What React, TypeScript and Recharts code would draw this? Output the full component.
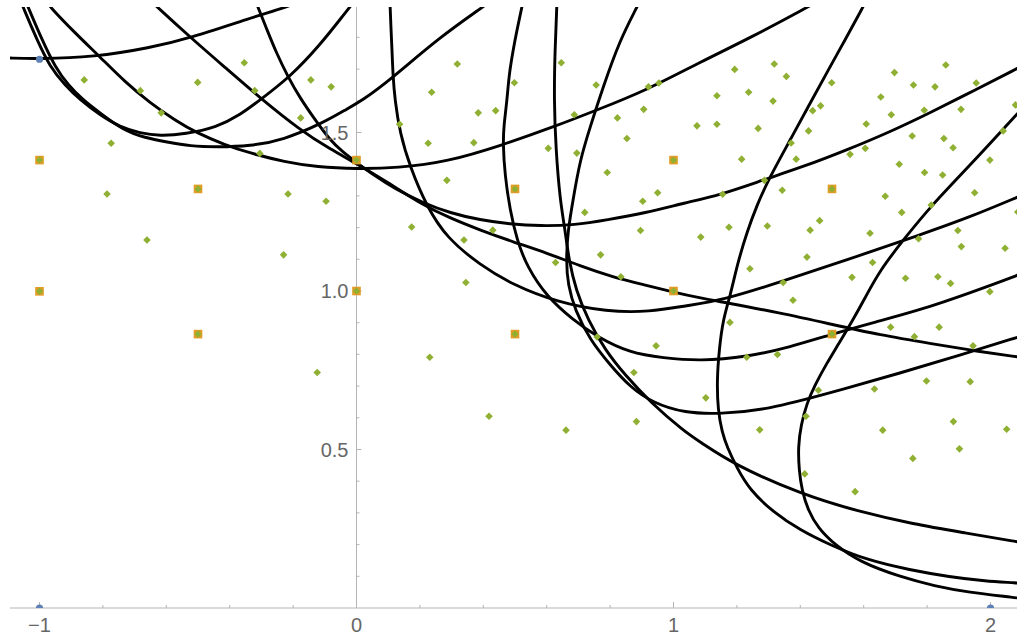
import React from 'react';
import { ComposedChart, Line, Scatter, XAxis, YAxis, ReferenceLine } from 'recharts';

type Pair = [number, number];

// plot window
const xDomain: [number, number] = [-1.0931, 2.0836];
const yDomain: [number, number] = [0, 1.8959];

// axis ticks
const xTickLabels = [-1, 0, 1, 2];
const xMinorTicks = [-0.8, -0.6, -0.4, -0.2, 0.2, 0.4, 0.6, 0.8, 1.2, 1.4, 1.6, 1.8, 2.0];
const yMajorTicks = [0.5, 1.0, 1.5];
const yMajorLabels = ['0.5', '1.0', '1.5'];
const yMinorTicks = [0.1, 0.2, 0.3, 0.4, 0.6, 0.7, 0.8, 0.9, 1.1, 1.2, 1.3, 1.4, 1.6, 1.7, 1.8];

// black curves
const curveTopFlat: Pair[] = [
  [-1.099, 1.735], [-1.005, 1.732], [-0.828, 1.738], [-0.651, 1.767], [-0.525, 1.798],
  [-0.336, 1.861], [-0.219, 1.896], [-0.191, 1.909],
];
const curveLeftU1: Pair[] = [
  [-1.058, 1.912], [-1.052, 1.896], [-1.008, 1.792], [-0.967, 1.707], [-0.92, 1.65], [-0.872, 1.603],
  [-0.809, 1.555], [-0.746, 1.517], [-0.683, 1.498], [-0.62, 1.489], [-0.541, 1.495], [-0.44, 1.517],
  [-0.368, 1.555], [-0.304, 1.603], [-0.21, 1.675], [-0.115, 1.776], [-0.036, 1.877], [-0.014, 1.905],
];
const curveLeftU2: Pair[] = [
  [-1.043, 1.912], [-1.036, 1.896], [-0.992, 1.792], [-0.951, 1.707], [-0.91, 1.65], [-0.863, 1.603],
  [-0.809, 1.562], [-0.737, 1.508], [-0.667, 1.483], [-0.598, 1.47], [-0.525, 1.457], [-0.44, 1.454],
  [-0.336, 1.457], [-0.232, 1.476], [-0.106, 1.53], [-0.036, 1.571], [0.021, 1.603], [0.106, 1.666],
  [0.263, 1.801], [0.399, 1.896], [0.415, 1.909],
];
const curveWideU: Pair[] = [
  [-0.976, 1.912], [-0.967, 1.896], [-0.888, 1.814], [-0.809, 1.738], [-0.73, 1.659], [-0.651, 1.593],
  [-0.573, 1.539], [-0.503, 1.498], [-0.415, 1.461], [-0.336, 1.435], [-0.226, 1.407], [-0.125, 1.391],
  [0.002, 1.385], [0.128, 1.388], [0.285, 1.407], [0.462, 1.461], [0.62, 1.517], [0.759, 1.571],
  [0.916, 1.634], [1.084, 1.722], [1.241, 1.798], [1.424, 1.896], [1.446, 1.909],
];
const curveMidU: Pair[] = [
  [-0.317, 1.912], [-0.311, 1.896], [-0.282, 1.823], [-0.254, 1.754], [-0.216, 1.675], [-0.178, 1.609],
  [-0.137, 1.549], [-0.084, 1.476], [-0.043, 1.438], [0.002, 1.404], [0.058, 1.363], [0.121, 1.322],
  [0.21, 1.278], [0.295, 1.246], [0.39, 1.224], [0.484, 1.211], [0.579, 1.205], [0.689, 1.208],
  [0.79, 1.224], [0.91, 1.246], [1.036, 1.278], [1.147, 1.303], [1.282, 1.35], [1.415, 1.394],
  [1.547, 1.445], [1.683, 1.502], [1.809, 1.562], [1.951, 1.634], [2.087, 1.703], [2.109, 1.716],
];
const curveDiagonal: Pair[] = [
  [-0.645, 1.912], [-0.629, 1.896], [-0.525, 1.801], [-0.412, 1.703], [-0.304, 1.609], [-0.178, 1.508],
  [-0.084, 1.448], [0.002, 1.401], [0.106, 1.338], [0.21, 1.271], [0.295, 1.23], [0.39, 1.192],
  [0.494, 1.155], [0.601, 1.12], [0.705, 1.079], [0.809, 1.044], [0.91, 1.019], [0.998, 0.997],
  [1.084, 0.978], [1.156, 0.965], [1.336, 0.931], [1.494, 0.896], [1.651, 0.861], [1.819, 0.833],
  [1.951, 0.811], [2.087, 0.792], [2.109, 0.789],
];
const curveArc1: Pair[] = [
  [0.106, 1.915], [0.106, 1.896], [0.109, 1.823], [0.112, 1.76], [0.115, 1.681], [0.121, 1.603],
  [0.137, 1.498], [0.169, 1.391], [0.222, 1.265], [0.285, 1.167], [0.39, 1.082], [0.494, 1.019],
  [0.632, 0.965], [0.79, 0.934], [0.926, 0.934], [1.036, 0.953], [1.156, 0.971], [1.336, 1.028],
  [1.547, 1.098], [1.778, 1.177], [1.935, 1.233], [2.087, 1.297], [2.109, 1.306],
];
const curveArc2: Pair[] = [
  [0.525, 1.915], [0.522, 1.896], [0.506, 1.823], [0.494, 1.76], [0.481, 1.681], [0.475, 1.603],
  [0.465, 1.524], [0.462, 1.467], [0.468, 1.366], [0.484, 1.256], [0.506, 1.161], [0.538, 1.076],
  [0.601, 0.981], [0.683, 0.909], [0.759, 0.855], [0.863, 0.804], [0.967, 0.789], [1.084, 0.779],
  [1.232, 0.792], [1.368, 0.823], [1.5, 0.864], [1.636, 0.902], [1.778, 0.94], [1.935, 0.994],
  [2.087, 1.05], [2.109, 1.06],
];
const curveDrop: Pair[] = [
  [0.632, 1.915], [0.632, 1.896], [0.626, 1.76], [0.623, 1.603], [0.629, 1.445], [0.642, 1.287],
  [0.658, 1.192], [0.67, 1.098], [0.692, 1.003], [0.73, 0.909], [0.784, 0.814], [0.847, 0.735],
  [0.926, 0.65], [1.036, 0.555], [1.084, 0.524], [1.188, 0.454], [1.399, 0.36], [1.588, 0.303],
  [1.756, 0.265], [1.92, 0.237], [2.087, 0.208], [2.109, 0.205],
];
const curveArc3: Pair[] = [
  [0.894, 1.915], [0.885, 1.896], [0.831, 1.792], [0.778, 1.644], [0.737, 1.517], [0.705, 1.413],
  [0.683, 1.287], [0.667, 1.192], [0.661, 1.098], [0.667, 1.019], [0.689, 0.94], [0.737, 0.845],
  [0.8, 0.767], [0.863, 0.697], [0.935, 0.647], [1.036, 0.615], [1.147, 0.612], [1.295, 0.625],
  [1.503, 0.681], [1.715, 0.741], [1.904, 0.798], [2.087, 0.855], [2.109, 0.861],
];
const curveSide1: Pair[] = [
  [1.607, 1.915], [1.598, 1.896], [1.541, 1.792], [1.494, 1.707], [1.431, 1.593], [1.368, 1.476],
  [1.304, 1.36], [1.263, 1.271], [1.232, 1.186], [1.203, 1.091], [1.178, 0.981], [1.156, 0.909],
  [1.144, 0.814], [1.137, 0.719], [1.14, 0.625], [1.153, 0.555], [1.169, 0.508], [1.2, 0.442],
  [1.241, 0.372], [1.314, 0.303], [1.399, 0.246], [1.494, 0.199], [1.61, 0.151], [1.746, 0.12],
  [1.872, 0.098], [1.983, 0.085], [2.087, 0.079], [2.109, 0.076],
];
const curveSide2: Pair[] = [
  [2.109, 1.584], [2.087, 1.562], [1.951, 1.413], [1.809, 1.265], [1.73, 1.167], [1.651, 1.066],
  [1.601, 0.972], [1.566, 0.909], [1.519, 0.83], [1.484, 0.773], [1.446, 0.703], [1.421, 0.647],
  [1.402, 0.577], [1.393, 0.508], [1.396, 0.435], [1.405, 0.372], [1.424, 0.309], [1.456, 0.252],
  [1.509, 0.199], [1.588, 0.145], [1.715, 0.098], [1.825, 0.069], [1.926, 0.05], [2.087, 0.032],
  [2.109, 0.028],
];

// markers
const bluePoints: Pair[] = [[-1, 1.731], [-1, 0], [2, 0]];
const latticePoints: Pair[] = [
  [-1, 1.413], [-1, 0.999], [-0.5, 1.322], [-0.5, 0.864], [0, 1.413], [0, 1.0],
  [0.5, 1.322], [0.5, 0.864], [1, 1.413], [1, 1.0], [1.5, 1.322], [1.5, 0.864],
];
const samplePoints: Pair[] = [
  [-0.859, 1.666], [-0.682, 1.632], [-0.501, 1.658], [-0.354, 1.72], [-0.616, 1.562], [-0.321, 1.632],
  [-0.144, 1.666], [-0.08, 1.644], [-0.176, 1.546], [-0.774, 1.466], [-0.305, 1.434], [-0.787, 1.306],
  [-0.216, 1.306], [-0.096, 1.283], [-0.661, 1.161], [-0.23, 1.114], [-0.124, 0.743],
  [0.318, 1.716], [0.237, 1.627], [0.136, 1.526], [0.384, 1.562], [0.439, 1.569], [0.498, 1.657],
  [0.646, 1.72], [0.756, 1.65], [0.687, 1.556], [0.921, 1.644], [0.954, 1.656], [0.906, 1.573],
  [0.823, 1.546], [0.853, 1.481], [0.226, 1.466], [0.37, 1.468], [0.605, 1.45], [0.695, 1.435],
  [0.791, 1.374], [0.285, 1.349], [0.903, 1.283], [0.95, 1.31], [0.72, 1.248], [0.174, 1.202],
  [0.43, 1.192], [0.339, 1.161], [0.896, 1.191], [0.77, 1.114], [0.628, 1.09], [0.834, 1.045],
  [0.345, 1.027], [0.231, 0.791], [0.418, 0.605], [0.661, 0.561], [0.759, 0.855], [0.945, 0.827],
  [0.875, 0.743], [0.883, 0.588],
  [1.193, 1.699], [1.318, 1.716], [1.356, 1.677], [1.137, 1.616], [1.237, 1.627], [1.314, 1.599],
  [1.499, 1.657], [1.074, 1.521], [1.137, 1.526], [1.267, 1.513], [1.439, 1.569], [1.464, 1.584],
  [1.426, 1.505], [1.371, 1.467], [1.215, 1.416], [1.387, 1.416], [1.287, 1.349], [1.155, 1.305],
  [1.343, 1.318], [1.086, 1.17], [1.175, 1.201], [1.296, 1.205], [1.431, 1.192], [1.461, 1.222],
  [1.421, 1.107], [1.241, 1.07], [1.346, 1.027], [1.377, 0.971], [1.697, 1.689], [1.859, 1.713],
  [1.757, 1.65], [1.825, 1.644], [1.955, 1.656], [1.654, 1.612], [1.687, 1.556], [1.791, 1.57],
  [1.907, 1.573], [2.079, 1.587], [1.608, 1.527], [1.753, 1.489], [1.853, 1.481], [1.882, 1.452],
  [2.04, 1.505], [1.605, 1.45], [1.557, 1.431], [1.712, 1.4], [1.792, 1.374], [1.849, 1.366],
  [1.998, 1.413], [1.668, 1.299], [1.813, 1.271], [1.95, 1.31], [1.72, 1.248], [2.086, 1.249],
  [1.62, 1.182], [1.897, 1.191], [1.773, 1.165], [1.908, 1.14], [2.046, 1.135], [1.628, 1.09],
  [1.563, 1.043], [1.732, 1.04], [1.834, 1.045], [1.874, 1.024], [1.998, 0.998],
  [1.178, 0.901], [1.231, 0.791], [1.328, 0.8], [1.102, 0.663], [1.272, 0.562], [1.457, 0.687],
  [1.418, 0.605], [1.414, 0.423], [1.573, 0.367], [1.634, 0.691], [1.66, 0.561], [1.685, 0.886],
  [1.76, 0.856], [1.838, 0.886], [1.945, 0.827], [1.798, 0.716], [1.936, 0.714], [1.883, 0.588],
  [1.902, 0.502], [1.755, 0.472], [2.051, 0.564],
];

const AXIS = '#b4b4b4';
const LABEL = '#666666';
const GREEN = '#8FB032';
const ORANGE = '#E09C24';
const BLUE = '#5E81B5';

const toPts = (a: Pair[]) => a.map(([x, y]) => ({ x, y }));

const curves = [
  curveTopFlat, curveLeftU1, curveLeftU2, curveWideU, curveMidU, curveDiagonal,
  curveArc1, curveArc2, curveDrop, curveArc3, curveSide1, curveSide2,
].map(toPts);

const fmtX = (v: number) => (v < 0 ? `\u2212${Math.abs(v)}` : String(v));

const Diamond = (p: any) => {
  const { cx, cy } = p;
  const r = 3.8;
  return <path d={`M${cx},${cy - r}L${cx + r},${cy}L${cx},${cy + r}L${cx - r},${cy}Z`} fill={GREEN} />;
};

const LatticeMark = (p: any) => {
  const { cx, cy } = p;
  const r = 3.6;
  return (
    <g>
      <rect x={cx - 4.3} y={cy - 4.3} width={8.6} height={8.6} fill={ORANGE} />
      <path d={`M${cx},${cy - r}L${cx + r},${cy}L${cx},${cy + r}L${cx - r},${cy}Z`} fill={GREEN} />
    </g>
  );
};

const Dot = (p: any) => <circle cx={p.cx} cy={p.cy} r={3.6} fill={BLUE} />;

// tick lengths in data units (317 px per unit)
const X_MINOR = 3 / 317;
const X_MAJOR = 6 / 317;
const Y_MINOR = 3 / 317;
const Y_MAJOR = 5 / 317;

export default function App() {
  return (
    <div
      style={{
        position: 'absolute',
        left: 0,
        top: 0,
        width: 1018,
        height: 638,
        background: '#fff',
        fontFamily: '"Liberation Sans", Arial, Helvetica, sans-serif',
      }}
    >
      <ComposedChart width={1018} height={638} margin={{ top: 7, right: 1, bottom: 0, left: 10 }}>
        <XAxis
          type="number"
          dataKey="x"
          domain={xDomain}
          allowDataOverflow
          ticks={xTickLabels}
          interval={0}
          tickFormatter={fmtX}
          axisLine={{ stroke: AXIS, strokeWidth: 1 }}
          tickLine={false}
          tick={{ fill: LABEL, fontSize: 20 }}
          tickMargin={4}
          height={30}
        />
        <YAxis type="number" dataKey="y" domain={yDomain} allowDataOverflow hide width={0} />

        {/* y axis drawn at x = 0 */}
        <ReferenceLine x={0} stroke={AXIS} strokeWidth={1} />
        {xMinorTicks.map(v => (
          <ReferenceLine key={`xm${v}`} segment={[{ x: v, y: 0 }, { x: v, y: X_MINOR }]} stroke={AXIS} />
        ))}
        {xTickLabels.map(v => (
          <ReferenceLine key={`xM${v}`} segment={[{ x: v, y: 0 }, { x: v, y: X_MAJOR }]} stroke={AXIS} />
        ))}
        {yMinorTicks.map(v => (
          <ReferenceLine key={`ym${v}`} segment={[{ x: 0, y: v }, { x: Y_MINOR, y: v }]} stroke={AXIS} />
        ))}
        {yMajorTicks.map((v, i) => (
          <ReferenceLine
            key={`yM${v}`}
            segment={[{ x: 0, y: v }, { x: Y_MAJOR, y: v }]}
            stroke={AXIS}
            label={{ value: yMajorLabels[i], position: 'left', offset: 8, fill: LABEL, fontSize: 20 }}
          />
        ))}

        {curves.map((c, i) => (
          <Line
            key={`c${i}`}
            data={c}
            dataKey="y"
            type="basis"
            stroke="#000"
            strokeWidth={2.9}
            dot={false}
            activeDot={false}
            isAnimationActive={false}
          />
        ))}

        <Scatter data={toPts(bluePoints)} dataKey="y" shape={Dot} isAnimationActive={false} />
        <Scatter data={toPts(latticePoints)} dataKey="y" shape={LatticeMark} isAnimationActive={false} />
        <Scatter data={toPts(samplePoints)} dataKey="y" shape={Diamond} isAnimationActive={false} />
      </ComposedChart>
    </div>
  );
}
